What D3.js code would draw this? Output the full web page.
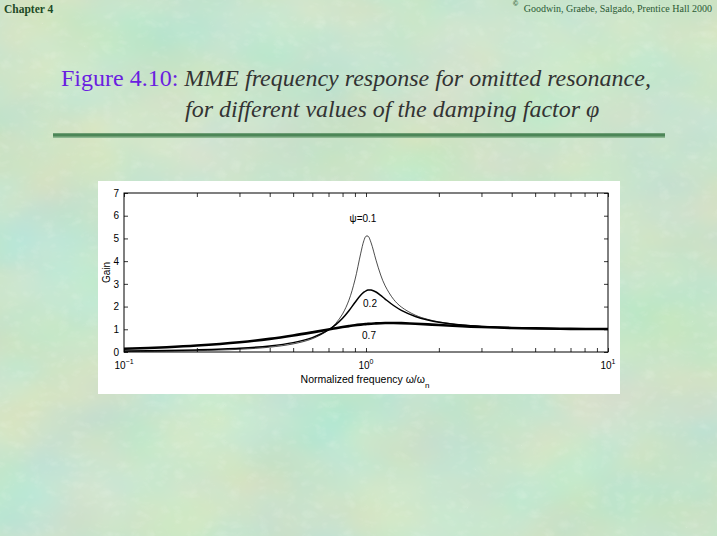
<!DOCTYPE html>
<html>
<head>
<meta charset="utf-8">
<script src="https://cdn.jsdelivr.net/npm/d3@7"></script>
<style>
  html, body { margin: 0; padding: 0; background: #b4d8b2; }
  svg { display: block; }
</style>
</head>
<body>
<svg id="slide" width="717" height="536"></svg>
<script>
// normalized frequency w/wn
const freq = [0.1, 0.15, 0.2, 0.3, 0.4, 0.5, 0.6, 0.7, 0.75, 0.8, 0.85, 0.9, 0.95, 0.98, 1.0,
              1.02, 1.05, 1.1, 1.15, 1.2, 1.3, 1.4, 1.6, 1.8, 2, 2.5, 3, 4, 5, 7, 10]

// gain, one array per damping factor
const gain01 = [0.023, 0.038, 0.059, 0.119, 0.212, 0.356, 0.583, 0.964, 1.259, 1.675, 2.281, 3.170, 4.319, 4.902, 5.099,
                5.098, 4.803, 4.044, 3.389, 2.913, 2.319, 1.980, 1.620, 1.437, 1.328, 1.189, 1.124, 1.067, 1.042, 1.021, 1.010]
const gain02 = [0.042, 0.065, 0.093, 0.163, 0.265, 0.413, 0.633, 0.970, 1.202, 1.486, 1.819, 2.178, 2.496, 2.633, 2.693,
                2.726, 2.729, 2.641, 2.492, 2.331, 2.047, 1.834, 1.565, 1.411, 1.314, 1.184, 1.122, 1.066, 1.041, 1.021, 1.010]
const gain07 = [0.140, 0.211, 0.283, 0.429, 0.577, 0.725, 0.865, 0.992, 1.047, 1.097, 1.139, 1.176, 1.205, 1.220, 1.229,
                1.237, 1.247, 1.260, 1.269, 1.274, 1.276, 1.270, 1.246, 1.217, 1.190, 1.135, 1.099, 1.059, 1.039, 1.020, 1.010]

const yTicks = [0, 1, 2, 3, 4, 5, 6, 7]
const xMajor = [0.1, 1, 10]
const xMajorExp = ['\u22121', '0', '1']

const svg = d3.select('#slide')

// ---- mottled green background ----
const defs = svg.append('defs')
const blot = defs.append('filter').attr('id', 'blot')
  .attr('x', 0).attr('y', 0).attr('width', '100%').attr('height', '100%')
blot.append('feTurbulence').attr('type', 'fractalNoise')
  .attr('baseFrequency', '0.008 0.011').attr('numOctaves', 3).attr('seed', 11).attr('result', 'n')
blot.append('feColorMatrix').attr('in', 'n').attr('type', 'matrix')
  .attr('values', '0.45 0 0 0 0.42  0 0.2 0 0 0.72  -0.2 0 0.3 0 0.62  0 0 0 0 0.7')

const grain = defs.append('filter').attr('id', 'grain')
  .attr('x', 0).attr('y', 0).attr('width', '100%').attr('height', '100%')
grain.append('feTurbulence').attr('type', 'turbulence')
  .attr('baseFrequency', '0.07 0.1').attr('numOctaves', 2).attr('seed', 3).attr('result', 't')
grain.append('feColorMatrix').attr('in', 't').attr('type', 'matrix')
  .attr('values', '0 0 0 0 0.93  0 0 0 0 0.98  0 0 0 0 0.9  1.6 0 0 0 -0.45')

svg.append('rect').attr('width', 717).attr('height', 536).attr('fill', '#b4d8b2')
svg.append('rect').attr('width', 717).attr('height', 536).attr('filter', 'url(#blot)')
svg.append('rect').attr('width', 717).attr('height', 536).attr('filter', 'url(#grain)').attr('opacity', 0.2)

// ---- slide header ----
svg.append('text').attr('x', 4).attr('y', 13)
  .attr('font-family', 'Liberation Serif').attr('font-weight', 'bold').attr('font-size', 11.5)
  .attr('fill', '#1d4a26').text('Chapter 4')

svg.append('text').attr('x', 513).attr('y', 6).attr('font-family', 'Liberation Sans')
  .attr('font-size', 7).attr('font-weight', 'bold').attr('fill', '#2a5a34').text('\u00a9')
svg.append('text').attr('x', 712).attr('y', 12).attr('text-anchor', 'end')
  .attr('font-family', 'Liberation Serif').attr('font-size', 10).attr('fill', '#2a5a34')
  .text('Goodwin, Graebe, Salgado, Prentice Hall 2000')

const title = svg.append('text').attr('x', 61).attr('y', 86)
  .attr('font-family', 'Liberation Serif').attr('font-size', 24)
title.append('tspan').attr('fill', '#6a1ee0').text('Figure 4.10:  ')
title.append('tspan').attr('fill', '#333333').attr('font-style', 'italic')
  .text('MME frequency response for omitted resonance,')
svg.append('text').attr('x', 185).attr('y', 117)
  .attr('font-family', 'Liberation Serif').attr('font-size', 24)
  .attr('font-style', 'italic').attr('fill', '#333333')
  .text('for different values of the damping factor \u03c6')

svg.append('line').attr('x1', 53).attr('x2', 665).attr('y1', 135).attr('y2', 135)
  .attr('stroke', '#4c8657').attr('stroke-width', 3.5)
svg.append('line').attr('x1', 53).attr('x2', 665).attr('y1', 137.5).attr('y2', 137.5)
  .attr('stroke', '#8cb890').attr('stroke-width', 1)

// ---- chart panel ----
svg.append('rect').attr('x', 98).attr('y', 181).attr('width', 522).attr('height', 213).attr('fill', '#ffffff')

const margin = {top: 193, right: 608, bottom: 352, left: 124}

const x = d3.scaleLog().domain([0.1, 10]).range([margin.left, margin.right])
const y = d3.scaleLinear().domain([0, 7]).range([margin.bottom, margin.top])

const g = svg.append('g').attr('font-family', 'Liberation Sans, Arial, sans-serif')

// minor + major x ticks, drawn inward on top and bottom
const xTickVals = []
for (let d = 0.1; d < 10; d *= 10) {
  for (let k = 1; k <= 9; k++) xTickVals.push(+(d * k).toPrecision(3))
}
xTickVals.push(10)

g.append('g').attr('transform', 'translate(0,' + margin.bottom + ')')
  .call(d3.axisBottom(x).tickValues(xTickVals).tickSize(-4).tickFormat('').tickSizeOuter(0))
g.append('g').attr('transform', 'translate(0,' + margin.top + ')')
  .call(d3.axisTop(x).tickValues(xTickVals).tickSize(-4).tickFormat('').tickSizeOuter(0))
g.append('g').attr('transform', 'translate(' + margin.left + ',0)')
  .call(d3.axisLeft(y).tickValues(yTicks).tickSize(-4).tickPadding(5)
    .tickFormat(d3.format('d')).tickSizeOuter(0))
g.append('g').attr('transform', 'translate(' + margin.right + ',0)')
  .call(d3.axisRight(y).tickValues(yTicks).tickSize(-4).tickFormat('').tickSizeOuter(0))

g.selectAll('.domain').remove()
g.selectAll('.tick line').attr('stroke', '#000').attr('stroke-width', 0.8)
g.selectAll('.tick text').attr('font-size', 10).attr('fill', '#000')
  .attr('font-family', 'Liberation Sans, Arial, sans-serif')

g.append('rect').attr('x', margin.left).attr('y', margin.top)
  .attr('width', margin.right - margin.left).attr('height', margin.bottom - margin.top)
  .attr('fill', 'none').attr('stroke', '#000').attr('stroke-width', 1)

// x tick labels as powers of ten
xMajor.forEach((v, i) => {
  const t = g.append('text').attr('x', x(v)).attr('y', 369).attr('text-anchor', 'middle')
    .attr('font-size', 10)
  t.append('tspan').text('10')
  t.append('tspan').attr('font-size', 7).attr('dy', -5).text(xMajorExp[i])
})

g.append('text').attr('transform', 'translate(110,' + y(3.5) + ') rotate(-90)')
  .attr('text-anchor', 'middle').attr('font-size', 10).text('Gain')

const xl = g.append('text').attr('x', 365).attr('y', 383).attr('text-anchor', 'middle').attr('font-size', 10.5)
xl.append('tspan').text('Normalized frequency \u03c9/\u03c9')
xl.append('tspan').attr('font-size', 8).attr('dy', 5).text('n')

// ---- curves ----
const line = d3.line()
  .x((d, i) => x(freq[i]))
  .y(d => y(d))
  .curve(d3.curveCatmullRom.alpha(0.5))

const series = [
  {values: gain01, width: 0.7},
  {values: gain02, width: 1.5},
  {values: gain07, width: 2.6}
]

g.selectAll('path.curve').data(series).join('path')
  .attr('class', 'curve')
  .attr('d', d => line(d.values))
  .attr('fill', 'none').attr('stroke', '#000')
  .attr('stroke-width', d => d.width)
  .attr('stroke-linejoin', 'round')

// curve labels
g.append('text').attr('x', 363).attr('y', 222).attr('text-anchor', 'middle').attr('font-size', 10).text('\u03c8=0.1')
g.append('text').attr('x', 370).attr('y', 307).attr('text-anchor', 'middle').attr('font-size', 10).text('0.2')
g.append('text').attr('x', 369).attr('y', 339).attr('text-anchor', 'middle').attr('font-size', 10).text('0.7')
</script>
</body>
</html>
